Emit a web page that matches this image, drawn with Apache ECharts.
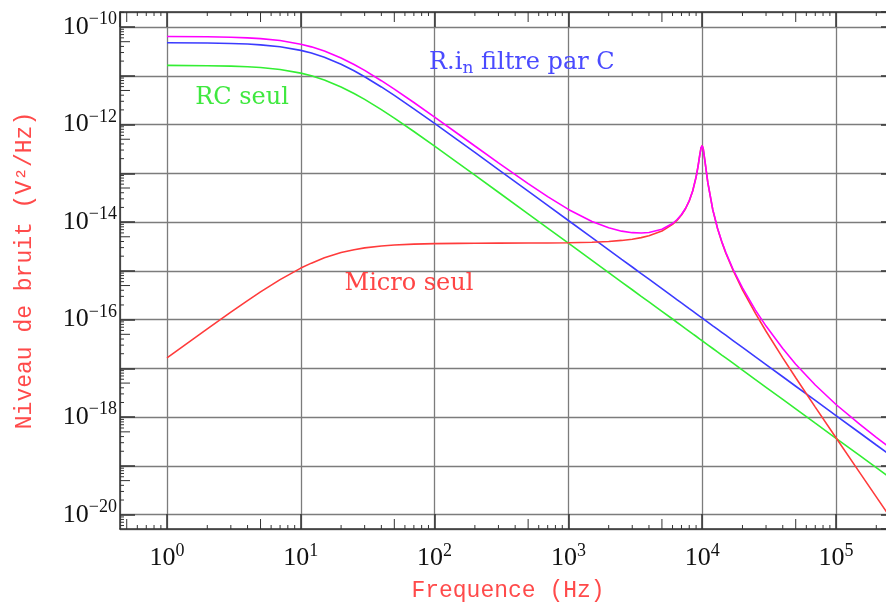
<!DOCTYPE html>
<html style="height: 100%">
<head>
<meta charset="utf-8">
<script src="https://cdn.jsdelivr.net/npm/echarts@6/dist/echarts.min.js"></script>
</head>
<body style="height: 100%; margin: 0; background: #fff">
<div id="container" style="width: 886px; height: 604px"></div>
<script type="text/javascript">

// frequences (Hz)
var freq = [1, 2, 3, 4, 5, 7, 10, 12, 15, 20, 25, 30, 40, 50, 70, 100, 150, 200, 300, 500, 700, 1000,
	1500, 2000, 2500, 3000, 3500, 4000, 5000, 6000, 6500, 7000, 7500, 8000, 8500, 9000, 9300, 9600, 9800,
	10000, 10200, 10500, 11000, 12000, 13000, 14000, 15000, 17000, 20000, 25000, 30000, 40000, 50000, 70000,
	100000, 150000, 200000, 300000];

// niveaux de bruit (V^2/Hz)
var rcSeul = [1.633e-11, 1.611e-11, 1.577e-11, 1.531e-11, 1.476e-11, 1.347e-11, 1.135e-11, 1.0e-11, 8.20e-12, 5.90e-12,
	4.341e-12, 3.28e-12, 2.022e-12, 1.354e-12, 7.20e-13, 3.61e-13, 1.624e-13, 9.17e-14, 4.09e-14, 1.475e-14, 7.53e-15,
	3.69e-15, 1.64e-15, 9.23e-16, 5.90e-16, 4.10e-16, 3.01e-16, 2.31e-16, 1.48e-16, 1.03e-16, 8.73e-17, 7.53e-17,
	6.56e-17, 5.77e-17, 5.11e-17, 4.56e-17, 4.27e-17, 4.00e-17, 3.84e-17, 3.69e-17, 3.55e-17, 3.35e-17,
	3.05e-17, 2.56e-17, 2.18e-17, 1.88e-17, 1.64e-17, 1.28e-17, 9.23e-18, 5.90e-18, 4.10e-18, 2.31e-18, 1.48e-18, 7.53e-19, 3.69e-19,
	1.64e-19, 9.23e-20, 4.10e-20];
var rinFiltre = [4.769e-11, 4.706e-11, 4.606e-11, 4.472e-11, 4.311e-11, 3.933e-11, 3.316e-11, 2.921e-11, 2.395e-11, 1.724e-11,
	1.268e-11, 9.58e-12, 5.905e-12, 3.955e-12, 2.103e-12, 1.054e-12, 4.743e-13, 2.679e-13, 1.195e-13, 4.307e-14, 2.198e-14,
	1.078e-14, 4.79e-15, 2.69e-15, 1.72e-15, 1.20e-15, 8.80e-16, 6.74e-16, 4.31e-16, 2.99e-16, 2.55e-16, 2.20e-16,
	1.92e-16, 1.68e-16, 1.49e-16, 1.33e-16, 1.25e-16, 1.17e-16, 1.12e-16, 1.08e-16, 1.04e-16, 9.78e-17,
	8.91e-17, 7.48e-17, 6.38e-17, 5.50e-17, 4.79e-17, 3.73e-17, 2.69e-17, 1.72e-17, 1.20e-17, 6.74e-18, 4.31e-18, 2.20e-18, 1.08e-18,
	4.79e-19, 2.69e-19, 1.20e-19];
var microSeul = [1.64e-17, 6.46e-17, 1.42e-16, 2.46e-16, 3.70e-16, 6.62e-16, 1.14e-15, 1.44e-15, 1.85e-15, 2.37e-15,
	2.72e-15, 2.96e-15, 3.24e-15, 3.39e-15, 3.54e-15, 3.62e-15, 3.66e-15, 3.68e-15, 3.70e-15, 3.72e-15, 3.74e-15,
	3.77e-15, 3.87e-15, 4.01e-15, 4.21e-15, 4.46e-15, 4.80e-15, 5.23e-15, 6.55e-15, 8.95e-15, 1.096e-14, 1.40e-14,
	1.88e-14, 2.72e-14, 4.39e-14, 8.37e-14, 1.375e-13, 2.41e-13, 3.31e-13, 3.70e-13, 3.07e-13, 1.72e-13,
	6.58e-14, 1.78e-14, 7.51e-15, 3.93e-15, 2.33e-15, 1.03e-15, 4.09e-16, 1.34e-16, 5.77e-17, 1.64e-17, 6.42e-18, 1.61e-18, 3.78e-19,
	7.37e-20, 2.32e-20, 4.58e-21];
var total = [6.40e-11, 6.32e-11, 6.18e-11, 6.00e-11, 5.79e-11, 5.28e-11, 4.45e-11, 3.92e-11, 3.22e-11, 2.31e-11,
	1.70e-11, 1.29e-11, 7.93e-12, 5.31e-12, 2.83e-12, 1.42e-12, 6.40e-13, 3.63e-13, 1.64e-13, 6.15e-14, 3.32e-14,
	1.82e-14, 1.03e-14, 7.63e-15, 6.52e-15, 6.07e-15, 5.98e-15, 6.14e-15, 7.13e-15, 9.36e-15, 1.13e-14, 1.43e-14,
	1.90e-14, 2.74e-14, 4.41e-14, 8.39e-14, 1.377e-13, 2.41e-13, 3.31e-13, 3.70e-13, 3.07e-13, 1.72e-13,
	6.60e-14, 1.79e-14, 7.59e-15, 4.00e-15, 2.40e-15, 1.08e-15, 4.46e-16, 1.57e-16, 7.38e-17, 2.55e-17, 1.22e-17, 4.56e-18, 1.82e-18,
	7.17e-19, 3.85e-19, 1.65e-19];

// bornes des axes (log10)
var xMin = -0.3513, xMax = 5.4484;
var yMin = -20.293, yMax = -9.692;
var minorMantissa = [2, 3, 4, 5, 6, 7, 8, 9];
var xDecades = [-1, 0, 1, 2, 3, 4, 5];
var yDecades = [-21, -20, -19, -18, -17, -16, -15, -14, -13, -12, -11, -10];

function toLog(xs, ys) {
	var out = [];
	for (var i = 0; i < xs.length; i++) {
		out.push([Math.log10(xs[i]), Math.log10(ys[i])]);
	}
	return out;
}

function minorTicks(decades, lo, hi) {
	var out = [];
	decades.forEach(function (d) {
		minorMantissa.forEach(function (k) {
			var v = d + Math.log10(k);
			if (v > lo && v < hi) out.push({ v: v, k: k });
		});
	});
	return out;
}

var xMinor = minorTicks(xDecades, xMin, xMax).map(function (t) { return [t.v, yMin, t.k]; });
var yMinor = minorTicks(yDecades, yMin, yMax).map(function (t) { return [xMin, t.v, t.k]; });

var AXIS = '#333333';
var GRIDC = '#7c7c7c';
var serif = "'DejaVu Serif', serif";
var titleFont = "'Liberation Mono', monospace";
var tickFont = "'Liberation Serif', serif";

function powLabel(v) {
	if (Math.abs(v - Math.round(v)) > 1e-6) return '';
	var e = Math.round(v);
	var s = e < 0 ? '\u2212' + (-e) : '' + e;
	return '{b|10}{s|' + s + '}';
}

var labelRich = {
	b: { fontFamily: tickFont, fontSize: 26, color: '#111' },
	s: { fontFamily: tickFont, fontSize: 18, color: '#111', padding: [0, 0, 15, 0] }
};

function axisBase(extra) {
	var a = {
		type: 'value',
		axisLine: { show: true, onZero: false, lineStyle: { color: AXIS, width: 1.5 } },
		axisTick: { show: true, inside: true, length: 15, lineStyle: { color: AXIS, width: 1.5 } },
		splitLine: { show: false },
		axisLabel: { show: false }
	};
	for (var key in extra) a[key] = extra[key];
	return a;
}

var minorStyle = { stroke: AXIS, lineWidth: 1 };

var option = {
	animation: false,
	backgroundColor: '#ffffff',
	grid: { left: 120, top: 12, width: 776, height: 517, containLabel: false, outerBoundsMode: 'none' },
	xAxis: [
		axisBase({
			position: 'bottom', min: xMin, max: xMax, splitNumber: 5,
			splitLine: { show: true, lineStyle: { color: GRIDC, width: 1.3 } },
			axisLabel: {
				show: true, margin: 13, showMinLabel: false, showMaxLabel: false,
				formatter: powLabel, rich: labelRich
			},
			name: 'Frequence (Hz)', nameLocation: 'middle', nameGap: 50,
			nameTextStyle: { fontFamily: titleFont, fontSize: 23, color: '#ff4a4a' }
		}),
		axisBase({ position: 'top', min: xMin, max: xMax, splitNumber: 5 })
	],
	yAxis: [
		axisBase({
			position: 'left', min: yMin, max: yMax, splitNumber: 10,
			splitLine: { show: true, lineStyle: { color: GRIDC, width: 1.3 } },
			axisLabel: {
				show: true, margin: 3, showMinLabel: false, showMaxLabel: false,
				formatter: function (v) {
					var e = Math.round(v);
					if (Math.abs(v - e) > 1e-6 || e % 2 !== 0) return '';
					return powLabel(v);
				},
				rich: labelRich
			},
			name: 'Niveau de bruit (V\u00b2/Hz)', nameLocation: 'middle', nameGap: 84, nameRotate: 90,
			nameTextStyle: { fontFamily: titleFont, fontSize: 23, color: '#ff4a4a' }
		}),
		axisBase({ position: 'right', min: yMin, max: yMax, splitNumber: 10 })
	],
	graphic: [
		{ type: 'text', x: 242, y: 98, z: 100, style: { text: 'RC seul', fill: '#3fe83f', font: "24px 'DejaVu Serif'", textAlign: 'center', textVerticalAlign: 'middle' } },
		{ type: 'text', x: 409, y: 284, z: 100, style: { text: 'Micro seul', fill: '#ff4444', font: "24px 'DejaVu Serif'", textAlign: 'center', textVerticalAlign: 'middle' } },
		{
			type: 'text', x: 429, y: 63, z: 100,
			style: {
				text: '{a|R.i}{n|n}{a| filtre par C}',
				textAlign: 'left', textVerticalAlign: 'middle',
				rich: {
					a: { fontFamily: serif, fontSize: 24, fill: '#4a4aff', color: '#4a4aff' },
					n: { fontFamily: serif, fontSize: 17, fill: '#4a4aff', color: '#4a4aff', padding: [12, 0, 0, 0] }
				}
			}
		}
	],
	series: [
		{
			name: 'RC seul', type: 'line', data: toLog(freq, rcSeul), showSymbol: false,
			lineStyle: { color: '#33ee33', width: 1.6 }, itemStyle: { color: '#33ee33' }, z: 3
		},
		{
			name: 'R.in filtre par C', type: 'line', data: toLog(freq, rinFiltre), showSymbol: false,
			lineStyle: { color: '#3b3bff', width: 1.6 }, itemStyle: { color: '#3b3bff' }, z: 3
		},
		{
			name: 'Micro seul', type: 'line', data: toLog(freq, microSeul), showSymbol: false,
			lineStyle: { color: '#ff3b3b', width: 1.6 }, itemStyle: { color: '#ff3b3b' }, z: 3
		},
		{
			name: 'Total', type: 'line', data: toLog(freq, total), showSymbol: false,
			lineStyle: { color: '#ff00ff', width: 1.6 }, itemStyle: { color: '#ff00ff' }, z: 4
		},
		{
			type: 'custom', data: xMinor, encode: { x: 0, y: 1 }, silent: true, z: 5,
			renderItem: function (params, api) {
				var cs = params.coordSys;
				var x = api.coord([api.value(0), yMin])[0];
				var len = api.value(2) === 5 ? 10 : 4;
				var b = cs.y + cs.height;
				return {
					type: 'group', children: [
						{ type: 'line', shape: { x1: x, y1: b, x2: x, y2: b - len }, style: minorStyle },
						{ type: 'line', shape: { x1: x, y1: cs.y, x2: x, y2: cs.y + len }, style: minorStyle }
					]
				};
			}
		},
		{
			type: 'custom', data: yMinor, encode: { x: 0, y: 1 }, silent: true, z: 5,
			renderItem: function (params, api) {
				var cs = params.coordSys;
				var y = api.coord([xMin, api.value(1)])[1];
				var len = api.value(2) === 5 ? 10 : 4;
				var r = cs.x + cs.width;
				return {
					type: 'group', children: [
						{ type: 'line', shape: { x1: cs.x, y1: y, x2: cs.x + len, y2: y }, style: minorStyle },
						{ type: 'line', shape: { x1: r, y1: y, x2: r - len, y2: y }, style: minorStyle }
					]
				};
			}
		}
	]
};

var myChart = echarts.init(document.getElementById('container'));
myChart.setOption(option, true);
</script>
</body>
</html>
